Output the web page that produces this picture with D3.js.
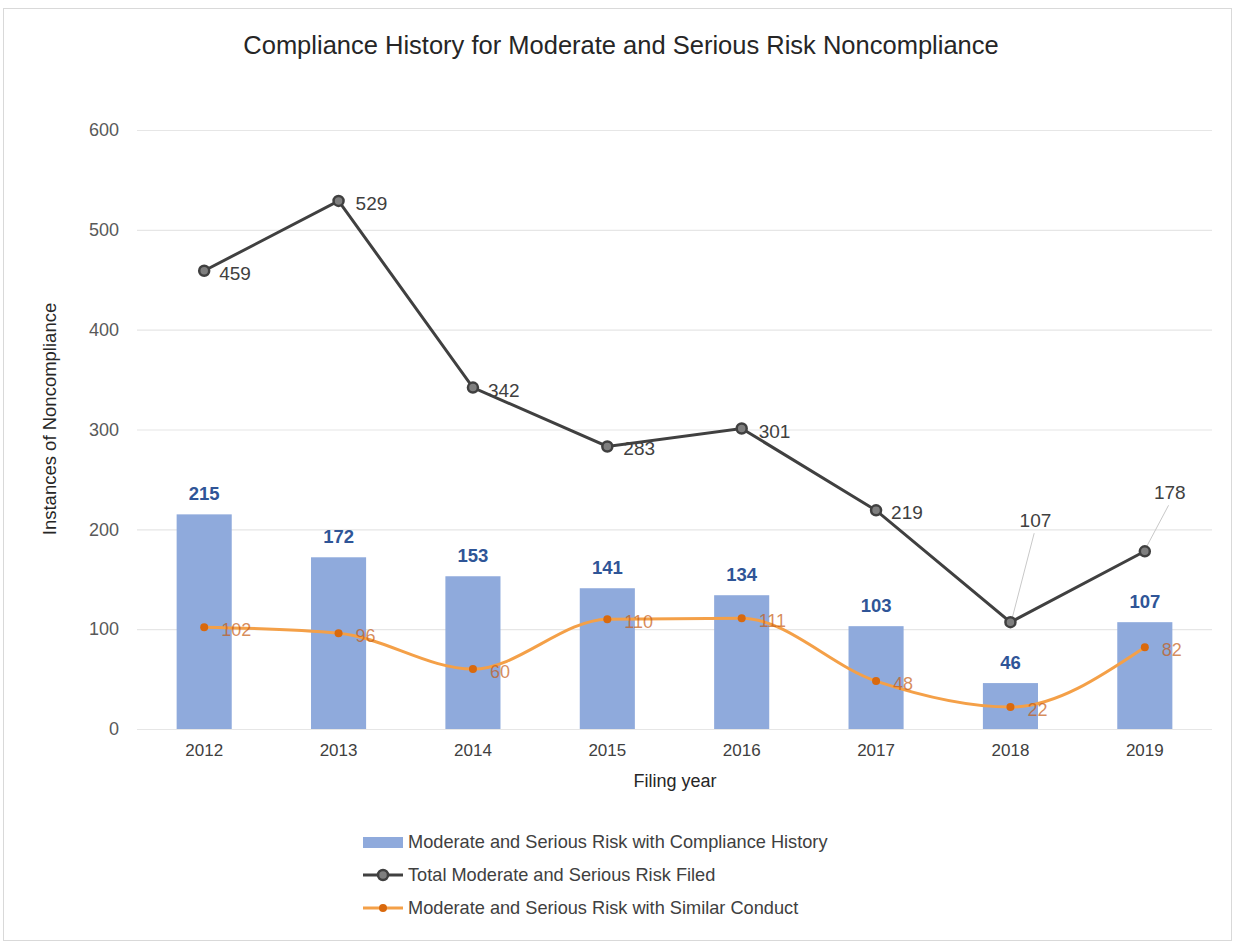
<!DOCTYPE html>
<html>
<head>
<meta charset="utf-8">
<script src="https://cdn.jsdelivr.net/npm/d3@7"></script>
<style>
  body { margin: 0; background: #fff; }
  svg { font-family: "Liberation Sans", Arial, sans-serif; }
</style>
</head>
<body>
<svg id="chart" width="1235" height="946"></svg>
<script>
// chart data
const years = ["2012", "2013", "2014", "2015", "2016", "2017", "2018", "2019"];
const historyCounts = [215, 172, 153, 141, 134, 103, 46, 107];
const totalFiled = [459, 529, 342, 283, 301, 219, 107, 178];
const similarConduct = [102, 96, 60, 110, 111, 48, 22, 82];
const yTicks = [0, 100, 200, 300, 400, 500, 600];
const seriesNames = [
    "Moderate and Serious Risk with Compliance History",
    "Total Moderate and Serious Risk Filed",
    "Moderate and Serious Risk with Similar Conduct"
];

const svg = d3.select("#chart");
const W = 1235, H = 946;
const margin = { left: 137, right: 23, top: 130, bottom: 217 };

// outer frame
svg.append("rect")
    .attr("x", 3.5).attr("y", 8.5)
    .attr("width", W - 7).attr("height", H - 14)
    .attr("fill", "#fff")
    .attr("stroke", "#d9d9d9");

const x = d3.scaleBand()
    .domain(years)
    .range([margin.left, W - margin.right])
    .paddingInner(0.59)
    .paddingOuter(0.295);

const y = d3.scaleLinear()
    .domain([0, 600])
    .range([H - margin.bottom, margin.top]);

const cx = d => x(d) + x.bandwidth() / 2;

// gridlines
svg.append("g")
    .selectAll("line")
    .data(yTicks)
    .join("line")
    .attr("x1", margin.left).attr("x2", W - margin.right)
    .attr("y1", d => y(d) + 0.5).attr("y2", d => y(d) + 0.5)
    .attr("stroke", "#e6e6e6")
    .attr("stroke-width", 1.2);

// y axis
const yAxis = svg.append("g")
    .attr("transform", `translate(${margin.left - 18},0)`)
    .call(d3.axisLeft(y).tickValues(yTicks).tickSize(0).tickPadding(0));
yAxis.select(".domain").remove();
yAxis.selectAll("text")
    .attr("font-size", 18)
    .attr("fill", "#595959")
    .attr("font-family", "Liberation Sans, Arial, sans-serif");

// x axis
const xAxis = svg.append("g")
    .attr("transform", `translate(0,${y(0) + 15})`)
    .call(d3.axisBottom(x).tickSize(0).tickPadding(0));
xAxis.select(".domain").remove();
xAxis.selectAll("text")
    .attr("font-size", 17)
    .attr("fill", "#404040")
    .attr("font-family", "Liberation Sans, Arial, sans-serif");

// axis titles
svg.append("text")
    .attr("transform", "translate(56,419) rotate(-90)")
    .attr("text-anchor", "middle")
    .attr("font-size", 18.5)
    .attr("fill", "#262626")
    .text("Instances of Noncompliance");

svg.append("text")
    .attr("x", 675)
    .attr("y", 787)
    .attr("text-anchor", "middle")
    .attr("font-size", 18)
    .attr("fill", "#262626")
    .text("Filing year");

// title
svg.append("text")
    .attr("x", 621).attr("y", 54)
    .attr("text-anchor", "middle")
    .attr("font-size", 25.5)
    .attr("fill", "#262626")
    .text("Compliance History for Moderate and Serious Risk Noncompliance");

// bars
svg.append("g")
    .selectAll("rect")
    .data(years)
    .join("rect")
    .attr("x", d => x(d))
    .attr("width", x.bandwidth())
    .attr("y", (d, i) => y(historyCounts[i]))
    .attr("height", (d, i) => y(0) - y(historyCounts[i]))
    .attr("fill", "#8faadc");

svg.append("g")
    .selectAll("text")
    .data(years)
    .join("text")
    .attr("x", d => cx(d))
    .attr("y", (d, i) => y(historyCounts[i]) - 14)
    .attr("text-anchor", "middle")
    .attr("font-size", 18.5)
    .attr("font-weight", "bold")
    .attr("fill", "#2f5597")
    .text((d, i) => historyCounts[i]);

// total line
const line = d3.line().x(d => cx(d[0])).y(d => y(d[1]));

svg.append("path")
    .datum(years.map((d, i) => [d, totalFiled[i]]))
    .attr("d", line)
    .attr("fill", "none")
    .attr("stroke", "#404040")
    .attr("stroke-width", 3);

// label offsets relative to each point: [dx, dy of text centre]
const totalOffsets = [[15, 2], [17, 2], [15, 2], [16, 2], [17, 2], [15, 2], [25, -102], [25, -59]];
const farLabel = o => o[1] < -20;

// leader lines for the labels that sit away from their point
svg.append("g")
    .selectAll("line")
    .data(years.filter((d, i) => farLabel(totalOffsets[i])))
    .join("line")
    .attr("x1", d => cx(d) + 2)
    .attr("y1", d => y(totalFiled[years.indexOf(d)]) - 5)
    .attr("x2", d => cx(d) + totalOffsets[years.indexOf(d)][0] * 0.95)
    .attr("y2", d => y(totalFiled[years.indexOf(d)]) + totalOffsets[years.indexOf(d)][1] + 13)
    .attr("stroke", "#c8c8c8")
    .attr("stroke-width", 1);

svg.append("g")
    .selectAll("circle")
    .data(years)
    .join("circle")
    .attr("cx", d => cx(d))
    .attr("cy", (d, i) => y(totalFiled[i]))
    .attr("r", 5)
    .attr("fill", "#7f7f7f")
    .attr("stroke", "#404040")
    .attr("stroke-width", 2.5);

svg.append("g")
    .selectAll("text")
    .data(years)
    .join("text")
    .attr("x", (d, i) => cx(d) + totalOffsets[i][0])
    .attr("y", (d, i) => y(totalFiled[i]) + totalOffsets[i][1] + 7)
    .attr("text-anchor", (d, i) => farLabel(totalOffsets[i]) ? "middle" : "start")
    .attr("font-size", 19)
    .attr("fill", "#404040")
    .text((d, i) => totalFiled[i]);

// similar conduct line
svg.append("path")
    .datum(years.map((d, i) => [d, similarConduct[i]]))
    .attr("d", line.curve(d3.curveMonotoneX))
    .attr("fill", "none")
    .attr("stroke", "#f4a048")
    .attr("stroke-width", 3);

svg.append("g")
    .selectAll("circle")
    .data(years)
    .join("circle")
    .attr("cx", d => cx(d))
    .attr("cy", (d, i) => y(similarConduct[i]))
    .attr("r", 4)
    .attr("fill", "#d9690d");

svg.append("g")
    .selectAll("text")
    .data(years)
    .join("text")
    .attr("x", d => cx(d) + 17)
    .attr("y", (d, i) => y(similarConduct[i]) + 9)
    .attr("font-size", 18)
    .attr("fill", "#c55a11")
    .attr("fill-opacity", 0.7)
    .text((d, i) => similarConduct[i]);

// legend
const lx = 363, ly = 842, lstep = 33, lw = 40;
const legend = svg.append("g");
legend.append("rect")
    .attr("x", lx).attr("y", ly - 5)
    .attr("width", lw).attr("height", 11)
    .attr("fill", "#8faadc");
legend.append("line")
    .attr("x1", lx).attr("x2", lx + lw)
    .attr("y1", ly + lstep).attr("y2", ly + lstep)
    .attr("stroke", "#404040").attr("stroke-width", 3);
legend.append("circle")
    .attr("cx", lx + lw / 2).attr("cy", ly + lstep).attr("r", 5)
    .attr("fill", "#7f7f7f").attr("stroke", "#404040").attr("stroke-width", 2.5);
legend.append("line")
    .attr("x1", lx).attr("x2", lx + lw)
    .attr("y1", ly + 2 * lstep).attr("y2", ly + 2 * lstep)
    .attr("stroke", "#f4a048").attr("stroke-width", 3);
legend.append("circle")
    .attr("cx", lx + lw / 2).attr("cy", ly + 2 * lstep).attr("r", 4)
    .attr("fill", "#d9690d");
legend.selectAll("text")
    .data(seriesNames)
    .join("text")
    .attr("x", lx + lw + 5)
    .attr("y", (d, i) => ly + i * lstep + 6)
    .attr("font-size", 18.2)
    .attr("fill", "#404040")
    .text(d => d);
</script>
</body>
</html>
